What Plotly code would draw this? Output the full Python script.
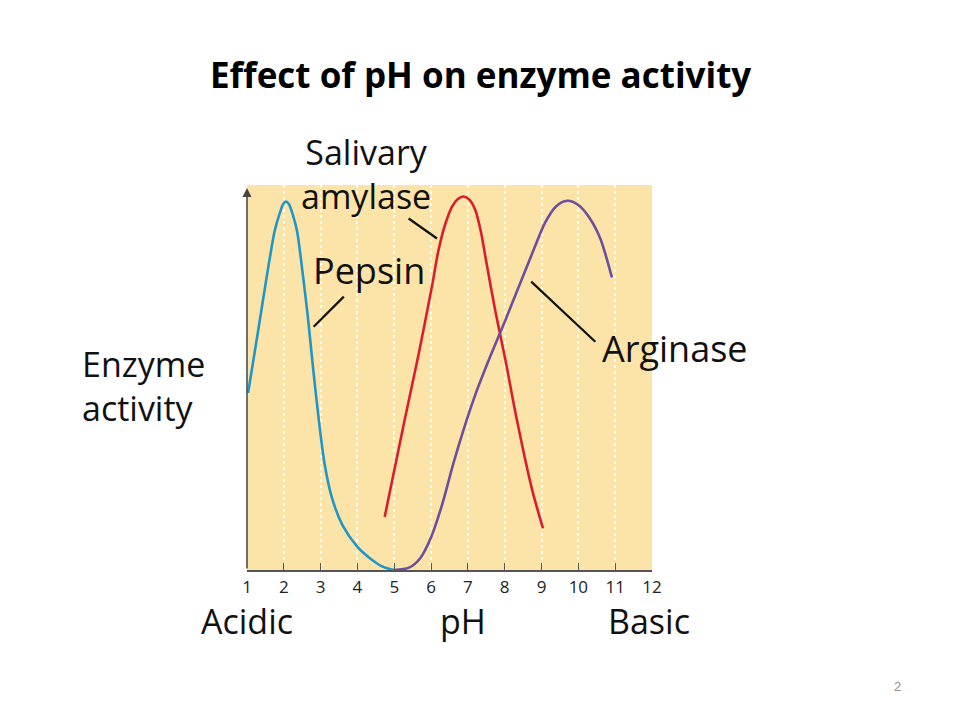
import plotly.graph_objects as go

# ---- data ----
ph_ticks = list(range(1, 13))
tick_labels = [str(v) for v in ph_ticks]

pepsin_ph = [1.03, 1.3, 1.55, 1.75, 1.9, 1.98, 2.06, 2.14, 2.22, 2.36, 2.5, 2.65, 2.8, 2.95, 3.1, 3.3, 3.6, 4.0, 4.4, 4.7, 5.0]
pepsin_act = [0.46, 0.62, 0.77, 0.88, 0.93, 0.95, 0.957, 0.95, 0.93, 0.88, 0.78, 0.66, 0.52, 0.39, 0.28, 0.19, 0.115, 0.06, 0.026, 0.008, 0.0]

amylase_ph = [4.74, 5.26, 5.66, 6.03, 6.2, 6.39, 6.57, 6.72, 6.88, 7.04, 7.2, 7.35, 7.5, 7.75, 8.03, 8.33, 8.74, 9.04]
amylase_act = [0.138, 0.38, 0.56, 0.74, 0.83, 0.9, 0.944, 0.963, 0.97, 0.962, 0.935, 0.88, 0.8, 0.67, 0.54, 0.39, 0.21, 0.108]

arginase_ph = [5.0, 5.4, 5.7, 6.0, 6.3, 6.6, 6.9, 7.2, 7.6, 8.0, 8.4, 8.8, 9.1, 9.4, 9.7, 10.0, 10.3, 10.6, 10.91]
arginase_act = [0.0, 0.006, 0.03, 0.085, 0.17, 0.275, 0.37, 0.455, 0.553, 0.645, 0.74, 0.835, 0.903, 0.945, 0.959, 0.948, 0.915, 0.86, 0.76]

# ---- layout geometry (page body adds an 8px offset) ----
OFF = 8
W, H = 952, 712
L, T = 247 - OFF, 185 - OFF
PW, PH = 405, 385
R, B = W - L - PW, H - T - PH


def px(xp):
    return (xp - OFF - L) / PW


def py(yp):
    return (T + PH - (yp - OFF)) / PH


LABEL_FONT = "Open Sans"
TXT = "#111111"

fig = go.Figure()
fig.add_trace(go.Scatter(x=pepsin_ph, y=pepsin_act, mode="lines", line=dict(color="#1E96C8", width=2.6, shape="spline", smoothing=0.8), name="Pepsin"))
fig.add_trace(go.Scatter(x=amylase_ph, y=amylase_act, mode="lines", line=dict(color="#D81E2E", width=2.6, shape="spline", smoothing=0.8), name="Salivary amylase"))
fig.add_trace(go.Scatter(x=arginase_ph, y=arginase_act, mode="lines", line=dict(color="#6C4E9E", width=2.6, shape="spline", smoothing=0.8), name="Arginase"))

annotations = []
annotations.append(dict(text="<b>Effect of pH on enzyme activity</b>", xref="paper", yref="paper", x=px(480), y=py(75), showarrow=False,
                        font=dict(family="Open Sans", size=35, color="#000000"), xanchor="center", yanchor="middle"))


def lab(text, xc, yc, size=36, anchor="center"):
    annotations.append(dict(text=text, xref="paper", yref="paper", x=px(xc), y=py(yc), showarrow=False,
                            font=dict(family=LABEL_FONT, size=size, color=TXT), xanchor=anchor, yanchor="middle",
                            align=anchor))


lab("Salivary<br>amylase", 366, 174, size=34)
lab("Pepsin", 369, 270)
lab("Arginase", 675, 348)
lab("Enzyme<br>activity", 80, 386, size=34, anchor="left")
lab("Acidic", 247, 621, size=34)
lab("pH", 463, 621, size=34)
lab("Basic", 649, 621, size=34)

annotations.append(dict(text="2", xref="paper", yref="paper", x=px(897), y=py(686), showarrow=False,
                        font=dict(family="Liberation Sans", size=13, color="#8C8C8C"), xanchor="center", yanchor="middle"))

annotations.append(dict(text="", x=1, y=0.992, xref="x", yref="y", ax=1, ay=0, axref="x", ayref="y", showarrow=True,
                        arrowhead=2, arrowsize=1.2, arrowwidth=1.5, arrowcolor="#444444"))

shapes = []
for (x0, y0, x1, y1) in [(2.81, 0.632, 3.63, 0.71), (5.39, 0.913, 6.16, 0.861), (8.72, 0.749, 10.46, 0.593)]:
    shapes.append(dict(type="line", xref="x", yref="y", x0=x0, y0=y0, x1=x1, y1=y1, line=dict(color="#111111", width=2.2)))

fig.update_layout(
    width=W, height=H,
    margin=dict(l=L, r=R, t=T, b=B, pad=0),
    paper_bgcolor="white", plot_bgcolor="#FCE4A8",
    showlegend=False,
    annotations=annotations, shapes=shapes,
    xaxis=dict(range=[1, 12], tickvals=ph_ticks, ticktext=tick_labels, ticks="inside", ticklen=7, tickwidth=1.3,
               tickcolor="#555555", showline=True, linecolor="#555555", linewidth=1.6,
               showgrid=True, gridcolor="rgba(255,255,255,0.95)", gridwidth=2, griddash="dot",
               tickfont=dict(family=LABEL_FONT, size=17, color="#222222"), ticklabelstandoff=1,
               fixedrange=True, zeroline=False),
    yaxis=dict(range=[0, 1], showticklabels=False, ticks="", showgrid=False, zeroline=False, showline=False, fixedrange=True),
)

fig.write_html("out.html")
